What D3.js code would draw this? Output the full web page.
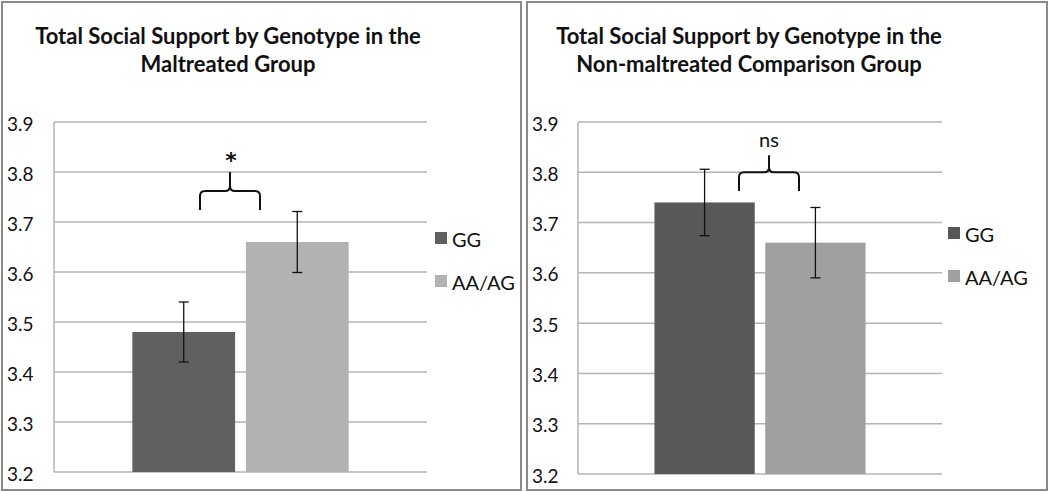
<!DOCTYPE html>
<html><head><meta charset="utf-8">
<script src="https://cdn.jsdelivr.net/npm/d3@7"></script>
<style>
html,body{margin:0;padding:0;background:#fff;}
svg{display:block;font-family:Lato,"Open Sans",sans-serif;}
</style></head>
<body>
<svg id="chart" width="1050" height="492"></svg>
<script>
const series = ["GG", "AA/AG"];
const yTicks = [3.2, 3.3, 3.4, 3.5, 3.6, 3.7, 3.8, 3.9];
const maltreatedTitle = ["Total Social Support by Genotype in the", "Maltreated Group"];
const maltreatedMeans = [3.48, 3.66];
const maltreatedErr = [0.06, 0.061];
const maltreatedSig = "*";
const comparisonTitle = ["Total Social Support by Genotype in the", "Non-maltreated Comparison Group"];
const comparisonMeans = [3.74, 3.66];
const comparisonErr = [0.066, 0.07];
const comparisonSig = "ns";

const svg = d3.select("#chart");

const panels = [
  {title: maltreatedTitle, means: maltreatedMeans, err: maltreatedErr, sig: maltreatedSig,
   box: [2, 2, 521, 490], plot: [54, 427, 122, 472], colors: ["#606060", "#b2b2b2"],
   tickX: 7, braceX: [200, 260], braceY: [3.724, 3.762, 3.80], sigY: 3.832, legendX: 435, legendY: [238, 281], titleCx: 228},
  {title: comparisonTitle, means: comparisonMeans, err: comparisonErr, sig: comparisonSig,
   box: [527, 2, 1047, 490], plot: [578, 942, 122, 474], colors: ["#585858", "#a0a0a0"],
   tickX: 532, braceX: [739, 799], braceY: [3.763, 3.80, 3.834], sigY: 3.867, legendX: 948, legendY: [233, 276], titleCx: 749}
];

panels.forEach(p => {
  const g = svg.append("g");
  g.append("rect").attr("x", p.box[0]).attr("y", p.box[1])
    .attr("width", p.box[2] - p.box[0]).attr("height", p.box[3] - p.box[1])
    .attr("fill", "#fff").attr("stroke", "#8a8a8a").attr("stroke-width", 2);

  const y = d3.scaleLinear().domain([3.2, 3.9]).range([p.plot[3], p.plot[2]]);
  const x = d3.scaleBand().domain(series).range([p.plot[0], p.plot[1]])
    .paddingInner(0.095).paddingOuter(0.69);

  // title
  p.title.forEach((t, i) => {
    g.append("text").attr("x", p.titleCx).attr("y", 35 + i * 28)
      .attr("text-anchor", "middle").attr("dominant-baseline", "central")
      .attr("font-size", 22).attr("font-weight", "bold").attr("fill", "#111").text(t);
  });

  // gridlines
  g.append("g").selectAll("line").data(yTicks).join("line")
    .attr("x1", p.plot[0]).attr("x2", p.plot[1])
    .attr("y1", d => y(d)).attr("y2", d => y(d))
    .attr("stroke", "#b4b4b4").attr("stroke-width", 1.5);
  g.append("line").attr("x1", p.plot[0]).attr("x2", p.plot[0])
    .attr("y1", y(3.9)).attr("y2", y(3.2)).attr("stroke", "#b4b4b4").attr("stroke-width", 1.5);

  // tick labels
  g.append("g").selectAll("text").data(yTicks).join("text")
    .attr("x", p.tickX).attr("y", d => y(d) + 1)
    .attr("dominant-baseline", "central").attr("font-size", 19).attr("fill", "#111")
    .text(d => d3.format(".1f")(d));

  // bars
  g.append("g").selectAll("rect").data(series).join("rect")
    .attr("x", d => x(d)).attr("width", x.bandwidth())
    .attr("y", (d, i) => y(p.means[i])).attr("height", (d, i) => y(3.2) - y(p.means[i]))
    .attr("fill", (d, i) => p.colors[i]);

  // error bars
  const eb = g.append("g").attr("stroke", "#111").attr("stroke-width", 1.3);
  series.forEach((s, i) => {
    const cx = x(s) + x.bandwidth() / 2;
    const hi = y(p.means[i] + p.err[i]), lo = y(p.means[i] - p.err[i]);
    eb.append("line").attr("x1", cx).attr("x2", cx).attr("y1", hi).attr("y2", lo);
    eb.append("line").attr("x1", cx - 5).attr("x2", cx + 5).attr("y1", hi).attr("y2", hi);
    eb.append("line").attr("x1", cx - 5).attr("x2", cx + 5).attr("y1", lo).attr("y2", lo);
  });

  // brace
  const [bx0, bx1] = p.braceX;
  const bm = (bx0 + bx1) / 2;
  const yb = y(p.braceY[0]), yh = y(p.braceY[1]), yt = y(p.braceY[2]);
  const r = 5;
  const path = `M${bx0},${yb} L${bx0},${yh + r} Q${bx0},${yh} ${bx0 + r},${yh} L${bm - r},${yh} Q${bm},${yh} ${bm},${yh - r} L${bm},${yt}
                M${bx1},${yb} L${bx1},${yh + r} Q${bx1},${yh} ${bx1 - r},${yh} L${bm + r},${yh} Q${bm},${yh} ${bm},${yh - r}`;
  g.append("path").attr("d", path).attr("fill", "none").attr("stroke", "#111").attr("stroke-width", 2);
  if (p.sig === "*") {
    g.append("text").attr("x", bm + 1).attr("y", y(p.sigY) + 4)
      .attr("text-anchor", "middle").attr("dominant-baseline", "central")
      .attr("font-family", "DejaVu Sans").attr("font-weight", "bold")
      .attr("font-size", 22).attr("fill", "#111").text(p.sig);
  } else {
    g.append("text").attr("x", bm).attr("y", y(p.sigY))
      .attr("text-anchor", "middle").attr("dominant-baseline", "central")
      .attr("font-size", 20).attr("fill", "#111").text(p.sig);
  }

  // legend
  series.forEach((s, i) => {
    g.append("rect").attr("x", p.legendX).attr("y", p.legendY[i] - 6).attr("width", 12).attr("height", 12)
      .attr("fill", p.colors[i]);
    g.append("text").attr("x", p.legendX + 17).attr("y", p.legendY[i] + 1)
      .attr("dominant-baseline", "central").attr("font-size", 20).attr("fill", "#111").text(s);
  });
});
</script>
</body></html>
